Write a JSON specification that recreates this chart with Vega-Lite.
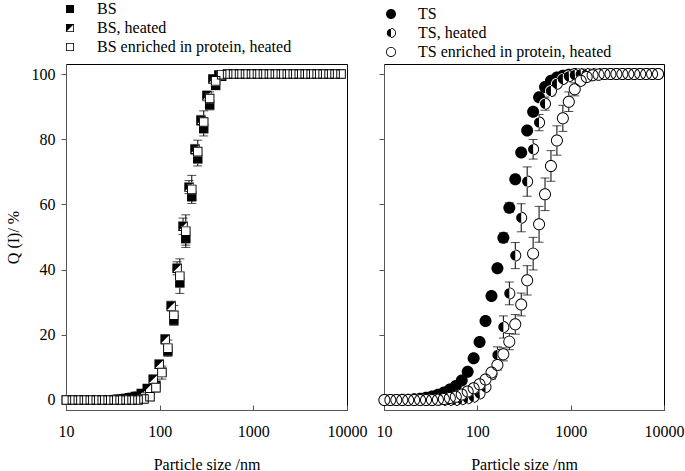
{
"$schema": "https://vega.github.io/schema/vega-lite/v6.json",
"background": "white",
"padding": {"left": 4, "top": 0, "right": 0, "bottom": 0},
"bounds": "flush",
"spacing": 37,
"resolve": {"scale": {"shape": "independent"}, "legend": {"shape": "independent"}},
"datasets": {
"L": [
{"s":"BS","d":10.1,"q":0},{"s":"BS","d":11.7,"q":0},{"s":"BS","d":13.54,"q":0},{"s":"BS","d":15.69,"q":0},{"s":"BS","d":18.17,"q":0},{"s":"BS","d":21.04,"q":0},{"s":"BS","d":24.36,"q":0},{"s":"BS","d":28.21,"q":0.05},{"s":"BS","d":32.67,"q":0.1},{"s":"BS","d":37.84,"q":0.3},{"s":"BS","d":43.82,"q":0.5},{"s":"BS","d":50.75,"q":0.8},{"s":"BS","d":58.77,"q":1.2},{"s":"BS","d":68.06,"q":1.6},{"s":"BS","d":78.82,"q":2.0},{"s":"BS","d":91.28,"q":4.5},{"s":"BS","d":105.7,"q":8.5},{"s":"BS","d":122.4,"q":15,"e":1.2},{"s":"BS","d":141.8,"q":24.5,"e":1.5},{"s":"BS","d":164.2,"q":36,"e":1.5},{"s":"BS","d":190.1,"q":49.5,"e":2},{"s":"BS","d":220.2,"q":62.5,"e":1.5},{"s":"BS","d":255,"q":74,"e":2.2},{"s":"BS","d":295.3,"q":83.3,"e":2.3},{"s":"BS","d":342,"q":90.5,"e":1.5},{"s":"BS","d":396.1,"q":96.5},{"s":"BS","d":458.7,"q":99.3},{"s":"BS","d":531.2,"q":100},{"s":"BS","d":615.1,"q":100},{"s":"BS","d":712.4,"q":100},{"s":"BS","d":825,"q":100},{"s":"BS","d":955.4,"q":100},{"s":"BS","d":1106,"q":100},{"s":"BS","d":1281,"q":100},{"s":"BS","d":1484,"q":100},{"s":"BS","d":1718,"q":100},{"s":"BS","d":1990,"q":100},{"s":"BS","d":2305,"q":100},{"s":"BS","d":2669,"q":100},{"s":"BS","d":3091,"q":100},{"s":"BS","d":3580,"q":100},{"s":"BS","d":4145,"q":100},{"s":"BS","d":4801,"q":100},{"s":"BS","d":5560,"q":100},{"s":"BS","d":6439,"q":100},{"s":"BS","d":7456,"q":100},{"s":"BS","d":8635,"q":100},
{"s":"BSh","d":10.1,"q":0},{"s":"BSh","d":11.7,"q":0},{"s":"BSh","d":13.54,"q":0},{"s":"BSh","d":15.69,"q":0},{"s":"BSh","d":18.17,"q":0},{"s":"BSh","d":21.04,"q":0},{"s":"BSh","d":24.36,"q":0},{"s":"BSh","d":28.21,"q":0},{"s":"BSh","d":32.67,"q":0.05},{"s":"BSh","d":35.4,"q":0.2},{"s":"BSh","d":41.0,"q":0.4},{"s":"BSh","d":47.4,"q":0.7},{"s":"BSh","d":54.9,"q":1.1},{"s":"BSh","d":63.6,"q":2},{"s":"BSh","d":73.7,"q":3.5},{"s":"BSh","d":85.3,"q":6.4,"e":1.2},{"s":"BSh","d":98.8,"q":11,"e":1.3},{"s":"BSh","d":114.4,"q":18.6,"e":1.5},{"s":"BSh","d":132.5,"q":28.8,"e":1.5},{"s":"BSh","d":153.5,"q":40.4,"e":2},{"s":"BSh","d":177.7,"q":53.3,"e":2.5},{"s":"BSh","d":205.8,"q":65.3,"e":2},{"s":"BSh","d":238.3,"q":76.9,"e":1.5},{"s":"BSh","d":276,"q":85.8,"e":1.5},{"s":"BSh","d":319.6,"q":93.3,"e":1.5},{"s":"BSh","d":370.2,"q":98.5,"e":0.8},{"s":"BSh","d":428.7,"q":99.7},{"s":"BSh","d":531.2,"q":100},{"s":"BSh","d":615.1,"q":100},{"s":"BSh","d":712.4,"q":100},{"s":"BSh","d":825,"q":100},{"s":"BSh","d":955.4,"q":100},{"s":"BSh","d":1106,"q":100},{"s":"BSh","d":1281,"q":100},{"s":"BSh","d":1484,"q":100},{"s":"BSh","d":1718,"q":100},{"s":"BSh","d":1990,"q":100},{"s":"BSh","d":2305,"q":100},{"s":"BSh","d":2669,"q":100},{"s":"BSh","d":3091,"q":100},{"s":"BSh","d":3580,"q":100},{"s":"BSh","d":4145,"q":100},{"s":"BSh","d":4801,"q":100},{"s":"BSh","d":5560,"q":100},{"s":"BSh","d":6439,"q":100},{"s":"BSh","d":7456,"q":100},{"s":"BSh","d":8635,"q":100},
{"s":"BSe","d":10.1,"q":0},{"s":"BSe","d":11.7,"q":0},{"s":"BSe","d":13.54,"q":0},{"s":"BSe","d":15.69,"q":0},{"s":"BSe","d":18.17,"q":0},{"s":"BSe","d":21.04,"q":0},{"s":"BSe","d":24.36,"q":0},{"s":"BSe","d":28.21,"q":0},{"s":"BSe","d":32.67,"q":0},{"s":"BSe","d":37.84,"q":0},{"s":"BSe","d":43.82,"q":0},{"s":"BSe","d":50.75,"q":0},{"s":"BSe","d":58.77,"q":0},{"s":"BSe","d":68.06,"q":0.3},{"s":"BSe","d":78.82,"q":1.0,"e":0.8},{"s":"BSe","d":91.28,"q":3.8,"e":1.5},{"s":"BSe","d":105.7,"q":8.4,"e":2},{"s":"BSe","d":122.4,"q":15.9,"e":2.5},{"s":"BSe","d":141.8,"q":26,"e":3},{"s":"BSe","d":164.2,"q":38,"e":5.3},{"s":"BSe","d":190.1,"q":51.8,"e":5},{"s":"BSe","d":220.2,"q":64.6,"e":4.3},{"s":"BSe","d":255,"q":76.2,"e":3.5},{"s":"BSe","d":295.3,"q":85.3,"e":3.4},{"s":"BSe","d":342,"q":92.5,"e":2},{"s":"BSe","d":396.1,"q":97.9,"e":1},{"s":"BSe","d":458.7,"q":99.8},{"s":"BSe","d":531.2,"q":100},{"s":"BSe","d":615.1,"q":100},{"s":"BSe","d":712.4,"q":100},{"s":"BSe","d":825,"q":100},{"s":"BSe","d":955.4,"q":100},{"s":"BSe","d":1106,"q":100},{"s":"BSe","d":1281,"q":100},{"s":"BSe","d":1484,"q":100},{"s":"BSe","d":1718,"q":100},{"s":"BSe","d":1990,"q":100},{"s":"BSe","d":2305,"q":100},{"s":"BSe","d":2669,"q":100},{"s":"BSe","d":3091,"q":100},{"s":"BSe","d":3580,"q":100},{"s":"BSe","d":4145,"q":100},{"s":"BSe","d":4801,"q":100},{"s":"BSe","d":5560,"q":100},{"s":"BSe","d":6439,"q":100},{"s":"BSe","d":7456,"q":100},{"s":"BSe","d":8635,"q":100}
],
"R": [
{"s":"TS","d":10.1,"q":0},{"s":"TS","d":11.7,"q":0},{"s":"TS","d":13.54,"q":0},{"s":"TS","d":15.69,"q":0.05},{"s":"TS","d":18.17,"q":0.1},{"s":"TS","d":21.04,"q":0.2},{"s":"TS","d":24.36,"q":0.4},{"s":"TS","d":28.21,"q":0.7},{"s":"TS","d":32.67,"q":1.1},{"s":"TS","d":37.84,"q":1.6},{"s":"TS","d":43.82,"q":2.3},{"s":"TS","d":50.75,"q":3.2},{"s":"TS","d":58.77,"q":4.3},{"s":"TS","d":68.06,"q":6.0},{"s":"TS","d":78.82,"q":8.7},{"s":"TS","d":91.28,"q":12.8,"e":0.8},{"s":"TS","d":105.7,"q":17.8,"e":1},{"s":"TS","d":122.4,"q":24.2,"e":1.2},{"s":"TS","d":141.8,"q":31.9,"e":1.2},{"s":"TS","d":164.2,"q":40.4,"e":1.2},{"s":"TS","d":190.1,"q":49.8,"e":1.5},{"s":"TS","d":220.2,"q":59,"e":1.5},{"s":"TS","d":255,"q":67.7,"e":1.3},{"s":"TS","d":295.3,"q":75.9,"e":1},{"s":"TS","d":342,"q":82.7,"e":1},{"s":"TS","d":396.1,"q":88.4},{"s":"TS","d":458.7,"q":92.9},{"s":"TS","d":531.2,"q":96},{"s":"TS","d":615.1,"q":97.9},{"s":"TS","d":712.4,"q":98.9},{"s":"TS","d":825,"q":99.5},{"s":"TS","d":955.4,"q":99.8},{"s":"TS","d":1106,"q":100},{"s":"TS","d":1281,"q":100},{"s":"TS","d":1484,"q":100},{"s":"TS","d":1718,"q":100},{"s":"TS","d":1990,"q":100},{"s":"TS","d":2305,"q":100},{"s":"TS","d":2669,"q":100},{"s":"TS","d":3091,"q":100},{"s":"TS","d":3580,"q":100},{"s":"TS","d":4145,"q":100},{"s":"TS","d":4801,"q":100},{"s":"TS","d":5560,"q":100},{"s":"TS","d":6439,"q":100},{"s":"TS","d":7456,"q":100},{"s":"TS","d":8635,"q":100},
{"s":"TSh","d":10.1,"q":0},{"s":"TSh","d":11.7,"q":0},{"s":"TSh","d":13.54,"q":0},{"s":"TSh","d":15.69,"q":0},{"s":"TSh","d":18.17,"q":0},{"s":"TSh","d":21.04,"q":0},{"s":"TSh","d":24.36,"q":0},{"s":"TSh","d":28.21,"q":0},{"s":"TSh","d":32.67,"q":0},{"s":"TSh","d":37.84,"q":0},{"s":"TSh","d":43.82,"q":0},{"s":"TSh","d":50.75,"q":0},{"s":"TSh","d":58.77,"q":0},{"s":"TSh","d":68.06,"q":0.2},{"s":"TSh","d":78.82,"q":0.5},{"s":"TSh","d":91.28,"q":1.0},{"s":"TSh","d":105.7,"q":2.0},{"s":"TSh","d":122.4,"q":4.0},{"s":"TSh","d":141.8,"q":7.9,"e":1.5},{"s":"TSh","d":164.2,"q":13.8,"e":2.5},{"s":"TSh","d":190.1,"q":22.4,"e":3.4},{"s":"TSh","d":220.2,"q":32.7,"e":3.5},{"s":"TSh","d":255,"q":44.3,"e":4},{"s":"TSh","d":295.3,"q":55.9,"e":4.3},{"s":"TSh","d":342,"q":67,"e":4.5},{"s":"TSh","d":396.1,"q":76.9,"e":3},{"s":"TSh","d":458.7,"q":85.1,"e":2.5},{"s":"TSh","d":531.2,"q":90.9,"e":2},{"s":"TSh","d":615.1,"q":94.8,"e":1.5},{"s":"TSh","d":712.4,"q":97,"e":1},{"s":"TSh","d":825,"q":98.5},{"s":"TSh","d":955.4,"q":99.3},{"s":"TSh","d":1106,"q":99.7},{"s":"TSh","d":1281,"q":99.9},{"s":"TSh","d":1484,"q":100},{"s":"TSh","d":1718,"q":100},{"s":"TSh","d":1990,"q":100},{"s":"TSh","d":2305,"q":100},{"s":"TSh","d":2669,"q":100},{"s":"TSh","d":3091,"q":100},{"s":"TSh","d":3580,"q":100},{"s":"TSh","d":4145,"q":100},{"s":"TSh","d":4801,"q":100},{"s":"TSh","d":5560,"q":100},{"s":"TSh","d":6439,"q":100},{"s":"TSh","d":7456,"q":100},{"s":"TSh","d":8635,"q":100},
{"s":"TSe","d":10.1,"q":0},{"s":"TSe","d":11.7,"q":0},{"s":"TSe","d":13.54,"q":0},{"s":"TSe","d":15.69,"q":0},{"s":"TSe","d":18.17,"q":0},{"s":"TSe","d":21.04,"q":0},{"s":"TSe","d":24.36,"q":0},{"s":"TSe","d":28.21,"q":0},{"s":"TSe","d":32.67,"q":0},{"s":"TSe","d":37.84,"q":0.1},{"s":"TSe","d":43.82,"q":0.3},{"s":"TSe","d":50.75,"q":0.6},{"s":"TSe","d":58.77,"q":1.0},{"s":"TSe","d":68.06,"q":1.7},{"s":"TSe","d":78.82,"q":2.6},{"s":"TSe","d":91.28,"q":3.6},{"s":"TSe","d":105.7,"q":4.8},{"s":"TSe","d":122.4,"q":6.3},{"s":"TSe","d":141.8,"q":8.4},{"s":"TSe","d":164.2,"q":10.7,"e":1.5},{"s":"TSe","d":190.1,"q":14,"e":2},{"s":"TSe","d":220.2,"q":17.9,"e":2.5},{"s":"TSe","d":255,"q":23.2,"e":3},{"s":"TSe","d":295.3,"q":29.3,"e":3.5},{"s":"TSe","d":342,"q":36.7,"e":4.5},{"s":"TSe","d":396.1,"q":44.9,"e":5},{"s":"TSe","d":458.7,"q":53.9,"e":5.5},{"s":"TSe","d":531.2,"q":63.1,"e":5},{"s":"TSe","d":615.1,"q":71.8,"e":4.7},{"s":"TSe","d":712.4,"q":79.6,"e":4.5},{"s":"TSe","d":825,"q":86.4,"e":4},{"s":"TSe","d":955.4,"q":91.5,"e":3},{"s":"TSe","d":1106,"q":95.3,"e":2},{"s":"TSe","d":1281,"q":97.9,"e":1},{"s":"TSe","d":1484,"q":99.1},{"s":"TSe","d":1718,"q":99.6},{"s":"TSe","d":1990,"q":99.8},{"s":"TSe","d":2305,"q":100},{"s":"TSe","d":2669,"q":100},{"s":"TSe","d":3091,"q":100},{"s":"TSe","d":3580,"q":100},{"s":"TSe","d":4145,"q":100},{"s":"TSe","d":4801,"q":100},{"s":"TSe","d":5560,"q":100},{"s":"TSe","d":6439,"q":100},{"s":"TSe","d":7456,"q":100},{"s":"TSe","d":8635,"q":100}
]
},
"hconcat": [
{
"width": 281, "height": 346,
"data": {"name": "L"},
"encoding": {
"x": {"field": "d", "type": "quantitative", "scale": {"type": "log", "domain": [10, 10000], "nice": false}, "axis": {"values": [10, 100, 1000, 10000], "format": "d", "tickSize": -5, "labelPadding": 18, "labelFlush": false, "title": "Particle size /nm", "titlePadding": 17}},
"y": {"field": "q", "type": "quantitative", "scale": {"domain": [-3.07, 103.07], "nice": false, "zero": false}, "axis": {"values": [0, 20, 40, 60, 80, 100], "tickSize": 5, "labelPadding": 6, "title": "Q (I)/ %", "titlePadding": 10}}
},
"layer": [
{"transform": [{"filter": "datum.e > 0"}], "mark": {"type": "errorbar", "ticks": {"size": 9}, "color": "black", "thickness": 1}, "encoding": {"yError": {"field": "e"}}},
{"transform": [{"filter": "datum.s == 'BS'"}], "mark": {"type": "point", "shape": "square", "filled": true, "fill": "white", "strokeWidth": 0, "size": 90, "opacity": 1}},
{"transform": [{"filter": "datum.s == 'BS'"}], "mark": {"type": "point", "filled": true, "fill": "black", "strokeWidth": 0, "size": 90, "opacity": 1},
 "encoding": {"shape": {"field": "s", "type": "nominal", "scale": {"domain": ["BS", "BSh", "BSe"], "range": ["M-1,-1H1V1H-1Z", "M-1,-1H1V1H-1ZM-0.8,-0.8V0.8H0.8V-0.8ZM-1,-1H1L-1,1Z", "M-1,-1H1V1H-1ZM-0.8,-0.8V0.8H0.8V-0.8Z"]},
 "legend": {"title": null, "orient": "none", "legendX": -4, "legendY": -63, "symbolSize": 64, "labelOffset": 19, "labelExpr": "datum.label == 'BS' ? 'BS' : datum.label == 'BSh' ? 'BS, heated' : 'BS enriched in protein, heated'"}}}},
{"transform": [{"filter": "datum.s == 'BSh'"}], "mark": {"type": "point", "shape": "square", "filled": true, "fill": "white", "strokeWidth": 0, "size": 90, "opacity": 1}},
{"transform": [{"filter": "datum.s == 'BSh'"}], "mark": {"type": "point", "filled": true, "fill": "black", "strokeWidth": 0, "size": 90, "opacity": 1},
 "encoding": {"shape": {"field": "s", "type": "nominal", "scale": {"domain": ["BS", "BSh", "BSe"], "range": ["M-1,-1H1V1H-1Z", "M-1,-1H1V1H-1ZM-0.8,-0.8V0.8H0.8V-0.8ZM-1,-1H1L-1,1Z", "M-1,-1H1V1H-1ZM-0.8,-0.8V0.8H0.8V-0.8Z"]}}}},
{"transform": [{"filter": "datum.s == 'BSe'"}], "mark": {"type": "point", "shape": "square", "filled": true, "fill": "white", "strokeWidth": 0, "size": 90, "opacity": 1}},
{"transform": [{"filter": "datum.s == 'BSe'"}], "mark": {"type": "point", "filled": true, "fill": "black", "strokeWidth": 0, "size": 90, "opacity": 1},
 "encoding": {"shape": {"field": "s", "type": "nominal", "scale": {"domain": ["BS", "BSh", "BSe"], "range": ["M-1,-1H1V1H-1Z", "M-1,-1H1V1H-1ZM-0.8,-0.8V0.8H0.8V-0.8ZM-1,-1H1L-1,1Z", "M-1,-1H1V1H-1ZM-0.8,-0.8V0.8H0.8V-0.8Z"]}}}}
]
},
{
"width": 280, "height": 346,
"data": {"name": "R"},
"encoding": {
"x": {"field": "d", "type": "quantitative", "scale": {"type": "log", "domain": [10, 10000], "nice": false}, "axis": {"values": [10, 100, 1000, 10000], "format": "d", "tickSize": -5, "labelPadding": 18, "labelFlush": false, "title": "Particle size /nm", "titlePadding": 17}},
"y": {"field": "q", "type": "quantitative", "scale": {"domain": [-3.07, 103.07], "nice": false, "zero": false}, "axis": {"values": [0, 20, 40, 60, 80, 100], "tickSize": 5, "labels": false, "title": null}}
},
"layer": [
{"transform": [{"filter": "datum.e > 0"}], "mark": {"type": "errorbar", "ticks": {"size": 9}, "color": "black", "thickness": 1}, "encoding": {"yError": {"field": "e"}}},
{"transform": [{"filter": "datum.s == 'TS'"}], "mark": {"type": "point", "shape": "circle", "filled": true, "fill": "white", "strokeWidth": 0, "size": 144, "opacity": 1}},
{"transform": [{"filter": "datum.s == 'TS'"}], "mark": {"type": "point", "filled": true, "fill": "black", "strokeWidth": 0, "size": 144, "opacity": 1},
 "encoding": {"shape": {"field": "s", "type": "nominal", "scale": {"domain": ["TS", "TSh", "TSe"], "range": ["M-1,0A1,1,0,1,1,1,0A1,1,0,1,1,-1,0Z", "M-1,0A1,1,0,1,1,1,0A1,1,0,1,1,-1,0ZM-0.84,0A0.84,0.84,0,1,0,0.84,0A0.84,0.84,0,1,0,-0.84,0ZM0,-1A1,1,0,0,0,0,1Z", "M-1,0A1,1,0,1,1,1,0A1,1,0,1,1,-1,0ZM-0.84,0A0.84,0.84,0,1,0,0.84,0A0.84,0.84,0,1,0,-0.84,0Z"]},
 "legend": {"title": null, "orient": "none", "legendX": -1, "legendY": -58, "symbolSize": 100, "labelOffset": 19, "labelExpr": "datum.label == 'TS' ? 'TS' : datum.label == 'TSh' ? 'TS, heated' : 'TS enriched in protein, heated'"}}}},
{"transform": [{"filter": "datum.s == 'TSh'"}], "mark": {"type": "point", "shape": "circle", "filled": true, "fill": "white", "strokeWidth": 0, "size": 144, "opacity": 1}},
{"transform": [{"filter": "datum.s == 'TSh'"}], "mark": {"type": "point", "filled": true, "fill": "black", "strokeWidth": 0, "size": 144, "opacity": 1},
 "encoding": {"shape": {"field": "s", "type": "nominal", "scale": {"domain": ["TS", "TSh", "TSe"], "range": ["M-1,0A1,1,0,1,1,1,0A1,1,0,1,1,-1,0Z", "M-1,0A1,1,0,1,1,1,0A1,1,0,1,1,-1,0ZM-0.84,0A0.84,0.84,0,1,0,0.84,0A0.84,0.84,0,1,0,-0.84,0ZM0,-1A1,1,0,0,0,0,1Z", "M-1,0A1,1,0,1,1,1,0A1,1,0,1,1,-1,0ZM-0.84,0A0.84,0.84,0,1,0,0.84,0A0.84,0.84,0,1,0,-0.84,0Z"]}}}},
{"transform": [{"filter": "datum.s == 'TSe'"}], "mark": {"type": "point", "shape": "circle", "filled": true, "fill": "white", "strokeWidth": 0, "size": 144, "opacity": 1}},
{"transform": [{"filter": "datum.s == 'TSe'"}], "mark": {"type": "point", "filled": true, "fill": "black", "strokeWidth": 0, "size": 144, "opacity": 1},
 "encoding": {"shape": {"field": "s", "type": "nominal", "scale": {"domain": ["TS", "TSh", "TSe"], "range": ["M-1,0A1,1,0,1,1,1,0A1,1,0,1,1,-1,0Z", "M-1,0A1,1,0,1,1,1,0A1,1,0,1,1,-1,0ZM-0.84,0A0.84,0.84,0,1,0,0.84,0A0.84,0.84,0,1,0,-0.84,0ZM0,-1A1,1,0,0,0,0,1Z", "M-1,0A1,1,0,1,1,1,0A1,1,0,1,1,-1,0ZM-0.84,0A0.84,0.84,0,1,0,0.84,0A0.84,0.84,0,1,0,-0.84,0Z"]}}}}
]
}
],
"config": {
"font": "Liberation Serif",
"view": {"stroke": "black", "strokeWidth": 1},
"axis": {"labelFont": "Liberation Serif", "labelFontSize": 16, "labelColor": "black", "titleFont": "Liberation Serif", "titleFontSize": 16, "titleFontWeight": "normal", "titleColor": "black", "grid": false, "domainColor": "#555", "tickColor": "#555"},
"legend": {"labelFont": "Liberation Serif", "labelFontSize": 16, "labelColor": "black", "symbolFillColor": "black", "symbolStrokeWidth": 0, "symbolOpacity": 1, "padding": 0, "rowPadding": 3, "labelLimit": 400}
}
}
